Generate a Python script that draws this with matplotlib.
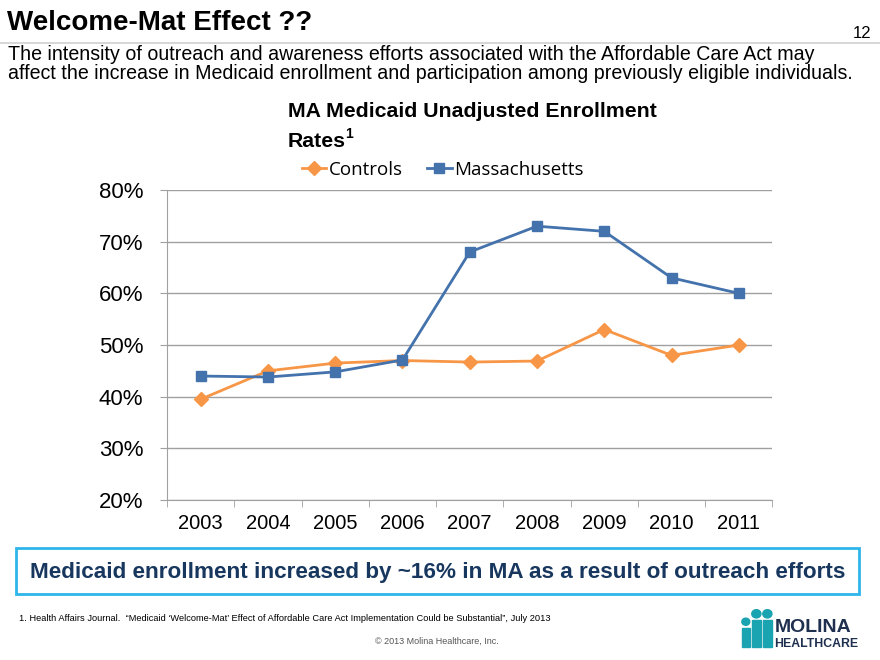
"""
Welcome-Mat Effect: MA Medicaid enrollment rates slide
"""

import matplotlib.pyplot as plt
import matplotlib.patches as patches
import numpy as np

years = ['2003', '2004', '2005', '2006', '2007', '2008', '2009', '2010', '2011']
controls = [39.5, 45.0, 46.5, 47.0, 46.7, 46.9, 53.0, 48.0, 50.0]
massachusetts = [44.0, 43.8, 44.8, 47.1, 68.0, 73.0, 72.0, 63.0, 60.0]
y_ticks = [20, 30, 40, 50, 60, 70, 80]

plt.rcParams['font.family'] = ['Liberation Sans', 'DejaVu Sans']

fig = plt.figure(figsize=(8.8, 6.6), dpi=100)

# Заголовок слайда
fig.text(0.008, 0.965, 'Welcome-Mat Effect ??', fontsize=20, fontweight='bold',
         va='center', ha='left')
fig.text(0.99, 0.950, '12', fontsize=12, va='center', ha='right')
fig.add_artist(plt.Line2D([0.0, 1.0], [0.935, 0.935], color='#d0d0d0', linewidth=1.2))
fig.text(0.009, 0.903,
         'The intensity of outreach and awareness efforts associated with the Affordable Care Act may\n'
         'affect the increase in Medicaid enrollment and participation among previously eligible individuals.',
         fontsize=14.1, va='center', ha='left', linespacing=0.95)

# Заголовок графика
fig.text(0.327, 0.831, 'MA Medicaid Unadjusted Enrollment', fontsize=15.3,
         fontweight='bold', va='center', ha='left')
fig.text(0.327, 0.785, 'Rates', fontsize=15.3, fontweight='bold',
         va='center', ha='left')
fig.text(0.392, 0.797, '1', fontsize=10, fontweight='bold', va='center', ha='left')

ax = fig.add_axes([0.1898, 0.2424, 0.688, 0.4697])
x = np.arange(len(years))

ax.plot(x, controls, color='#F79646', marker='D', markersize=7, linewidth=2,
        label='Controls')
ax.plot(x, massachusetts, color='#4372AC', marker='s', markersize=7, linewidth=2,
        label='Massachusetts')

ax.set_xlim(-0.5, len(years) - 0.5)
ax.set_ylim(20, 80)
ax.set_yticks(y_ticks)
ax.set_yticklabels([f'{v}%' for v in y_ticks], fontsize=16)
ax.set_xticks(x)
ax.set_xticklabels(years, fontsize=14.5)
ax.tick_params(axis='x', length=0, pad=10)
ax.set_xticks(np.arange(-0.5, len(years), 1), minor=True)
ax.tick_params(axis='x', which='minor', length=5, color='#a0a0a0', direction='out')
ax.tick_params(axis='y', length=5, color='#a0a0a0', direction='out', pad=12)

ax.grid(True, axis='y', color='#a0a0a0', linewidth=1)
ax.set_axisbelow(True)
for side in ['top', 'right']:
    ax.spines[side].set_visible(False)
ax.spines['left'].set_color('#a0a0a0')
ax.spines['bottom'].set_color('#a0a0a0')

ax.legend(loc='lower left', bbox_to_anchor=(0.21, 1.012), ncol=2, frameon=False,
          prop={'family': 'Open Sans', 'size': 13.5}, handlelength=1.3,
          columnspacing=1.3, handletextpad=0.15, borderaxespad=0)

# Вывод в рамке
box = patches.Rectangle((0.018, 0.100), 0.958, 0.070, transform=fig.transFigure,
                        fill=False, edgecolor='#2EB6EA', linewidth=2)
fig.add_artist(box)
fig.text(0.497, 0.132, 'Medicaid enrollment increased by ~16% in MA as a result of outreach efforts',
         fontsize=16.2, fontweight='bold', color='#17375E', va='center', ha='center')

# Сноска и копирайт
fig.text(0.022, 0.063,
         '1. Health Affairs Journal.  \u201cMedicaid \u2018Welcome-Mat\u2019 Effect of Affordable Care Act '
         'Implementation Could be Substantial\u201d, July 2013',
         fontsize=6.7, va='center', ha='left')
fig.text(0.497, 0.028, '\u00a9 2013 Molina Healthcare, Inc.', fontsize=6.5,
         color='#555555', va='center', ha='center')

# Логотип (упрощённо)
teal = '#1AA3B0'
for cx, cy, r, h in [(0.8475, 0.052, 0.0045, 0.028), (0.8595, 0.064, 0.0052, 0.040),
                     (0.872, 0.064, 0.0052, 0.040)]:
    fig.add_artist(patches.Ellipse((cx, cy + 0.006), 2 * r, 2 * r * 880 / 660 * 0.9,
                                   transform=fig.transFigure, color=teal))
    fig.add_artist(patches.Rectangle((cx - r, cy - h - 0.004), 2 * r, h,
                                     transform=fig.transFigure, color=teal))
fig.text(0.880, 0.050, 'MOLINA', fontsize=14, fontweight='bold', color='#1E2F4F',
         va='center', ha='left')
fig.text(0.880, 0.024, 'HEALTHCARE', fontsize=8.8, fontweight='bold', color='#1E2F4F',
         va='center', ha='left')

plt.savefig('out.png', dpi=100)
